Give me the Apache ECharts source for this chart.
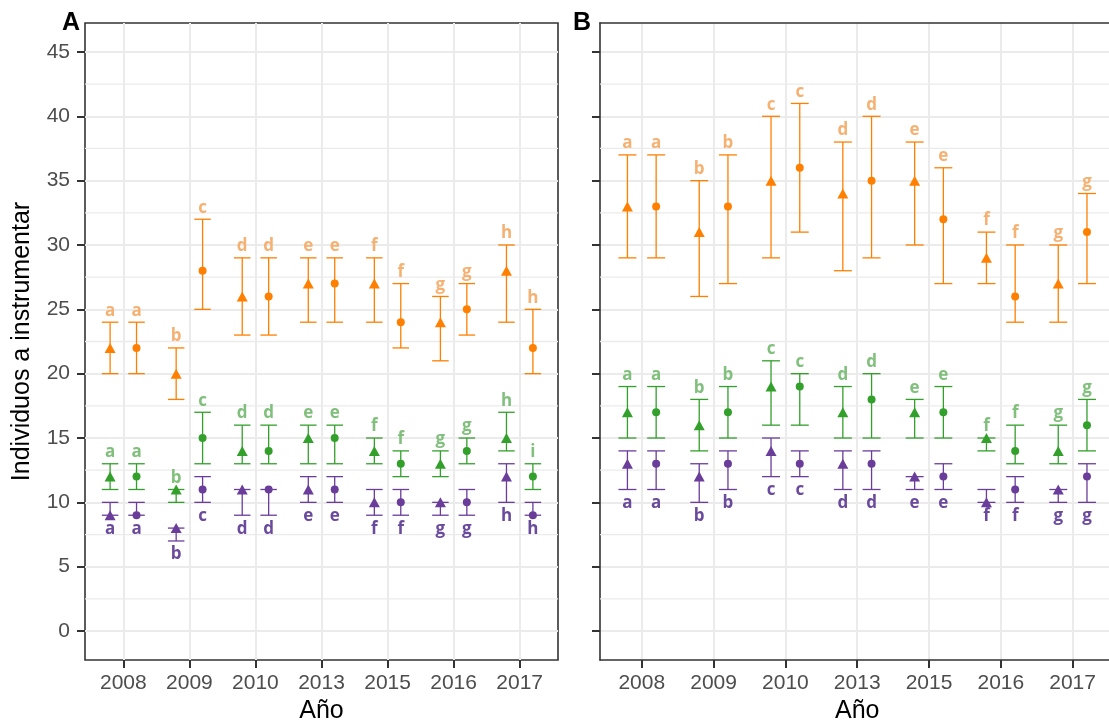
<!DOCTYPE html>
<html><head><meta charset="utf-8">
<script src="https://cdn.jsdelivr.net/npm/echarts@6/dist/echarts.min.js"></script>
<style>html,body{margin:0;padding:0;background:#fff;overflow:hidden}#c{width:1109px;height:723px}</style>
</head><body><div id="c"></div>
<script>
// ---------- categories & ticks ----------
const years = ['2008', '2009', '2010', '2013', '2015', '2016', '2017'];
const yTicks = [0, 5, 10, 15, 20, 25, 30, 35, 40, 45];
const yMinorTicks = [2.5, 7.5, 12.5, 17.5, 22.5, 27.5, 32.5, 37.5, 42.5];

// ---------- Panel A ----------
const aOrangeTri = [22, 20, 26, 27, 27, 24, 28];
const aOrangeTriLo = [20, 18, 23, 24, 24, 21, 24];
const aOrangeTriHi = [24, 22, 29, 29, 29, 26, 30];
const aOrangeTriLet = ['a', 'b', 'd', 'e', 'f', 'g', 'h'];
const aOrangeCir = [22, 28, 26, 27, 24, 25, 22];
const aOrangeCirLo = [20, 25, 23, 24, 22, 23, 20];
const aOrangeCirHi = [24, 32, 29, 29, 27, 27, 25];
const aOrangeCirLet = ['a', 'c', 'd', 'e', 'f', 'g', 'h'];

const aGreenTri = [12, 11, 14, 15, 14, 13, 15];
const aGreenTriLo = [11, 10, 13, 13, 13, 12, 14];
const aGreenTriHi = [13, 11, 16, 16, 15, 14, 17];
const aGreenTriLet = ['a', 'b', 'd', 'e', 'f', 'g', 'h'];
const aGreenCir = [12, 15, 14, 15, 13, 14, 12];
const aGreenCirLo = [11, 13, 13, 13, 12, 13, 11];
const aGreenCirHi = [13, 17, 16, 16, 14, 15, 13];
const aGreenCirLet = ['a', 'c', 'd', 'e', 'f', 'g', 'i'];

const aPurpleTri = [9, 8, 11, 11, 10, 10, 12];
const aPurpleTriLo = [9, 7, 9, 10, 9, 9, 10];
const aPurpleTriHi = [10, 8, 11, 12, 11, 10, 13];
const aPurpleTriLet = ['a', 'b', 'd', 'e', 'f', 'g', 'h'];
const aPurpleCir = [9, 11, 11, 11, 10, 10, 9];
const aPurpleCirLo = [9, 10, 9, 10, 9, 9, 9];
const aPurpleCirHi = [10, 12, 11, 12, 11, 11, 10];
const aPurpleCirLet = ['a', 'c', 'd', 'e', 'f', 'g', 'h'];

// ---------- Panel B ----------
const bOrangeTri = [33, 31, 35, 34, 35, 29, 27];
const bOrangeTriLo = [29, 26, 29, 28, 30, 27, 24];
const bOrangeTriHi = [37, 35, 40, 38, 38, 31, 30];
const bOrangeCir = [33, 33, 36, 35, 32, 26, 31];
const bOrangeCirLo = [29, 27, 31, 29, 27, 24, 27];
const bOrangeCirHi = [37, 37, 41, 40, 36, 30, 34];

const bGreenTri = [17, 16, 19, 17, 17, 15, 14];
const bGreenTriLo = [15, 14, 16, 15, 15, 14, 13];
const bGreenTriHi = [19, 18, 21, 19, 18, 15, 16];
const bGreenCir = [17, 17, 19, 18, 17, 14, 16];
const bGreenCirLo = [15, 15, 16, 15, 15, 13, 14];
const bGreenCirHi = [19, 19, 20, 20, 19, 16, 18];

const bPurpleTri = [13, 12, 14, 13, 12, 10, 11];
const bPurpleTriLo = [11, 10, 12, 11, 11, 10, 10];
const bPurpleTriHi = [14, 13, 15, 14, 12, 11, 11];
const bPurpleCir = [13, 13, 13, 13, 12, 11, 12];
const bPurpleCirLo = [11, 11, 12, 11, 11, 10, 10];
const bPurpleCirHi = [14, 14, 14, 14, 13, 12, 13];

const bLetters = ['a', 'b', 'c', 'd', 'e', 'f', 'g'];

// ---------- styling ----------
const COL = { orange: '#FF7F00', green: '#33A02C', purple: '#6A3D9A' };
const LBL = { orange: '#F5B172', green: '#80BF7C', purple: '#6A4A9C' };
const FONT = '"Liberation Sans", Arial, sans-serif';
const LFONT = 'bold 17px "Open Sans", "Liberation Sans", sans-serif';
const DODGE = 0.2, CAP = 0.125;
const BORDER = { color: '#333333', width: 1.6 };
const XRANGE = [[0.42, 7.58], [0.418, 7.582]];

const series = [];

// minor horizontal gridlines (drawn through the axes' scales)
[0, 1].forEach(function (panel) {
  series.push({
    type: 'custom', xAxisIndex: panel, yAxisIndex: panel, z: 1, silent: true,
    data: yMinorTicks.map(v => [v]),
    renderItem: function (params, api) {
      const v = api.value(0);
      const p1 = api.coord([XRANGE[panel][0], v]), p2 = api.coord([XRANGE[panel][1], v]);
      return { type: 'line', shape: { x1: p1[0], y1: p1[1], x2: p2[0], y2: p2[1] }, style: { stroke: '#EBEBEB', lineWidth: 1.3 } };
    }
  });
});

function addGroup(panel, color, shape, vals, lo, hi, letters, above) {
  const off = shape === 'triangle' ? -DODGE : DODGE;
  const xs = years.map((_, i) => i + 1 + off);
  series.push({
    type: 'custom', xAxisIndex: panel, yAxisIndex: panel, z: 2, silent: true, clip: false,
    data: xs.map((x, i) => [x, lo[i], hi[i]]),
    renderItem: function (params, api) {
      const x = api.value(0), l = api.value(1), h = api.value(2);
      const pL = api.coord([x, l]), pH = api.coord([x, h]);
      const w = api.coord([x + CAP, l])[0] - pL[0];
      const ls = { stroke: COL[color], lineWidth: 1.3 };
      const lab = letters[params.dataIndex];
      return {
        type: 'group', children: [
          { type: 'line', shape: { x1: pL[0], y1: pL[1], x2: pH[0], y2: pH[1] }, style: ls },
          { type: 'line', shape: { x1: pL[0] - w, y1: pL[1], x2: pL[0] + w, y2: pL[1] }, style: ls },
          { type: 'line', shape: { x1: pH[0] - w, y1: pH[1], x2: pH[0] + w, y2: pH[1] }, style: ls },
          { type: 'text', style: above
              ? { text: lab, x: pH[0], y: pH[1] - 3, align: 'center', verticalAlign: 'bottom', fill: LBL[color], font: LFONT }
              : { text: lab, x: pL[0], y: pL[1] + 5, align: 'center', verticalAlign: 'top', fill: LBL[color], font: LFONT } }
        ]
      };
    }
  });
  series.push({
    type: 'scatter', xAxisIndex: panel, yAxisIndex: panel, z: 3, silent: true,
    symbol: shape, symbolSize: shape === 'triangle' ? [11, 10] : 8,
    itemStyle: { color: COL[color], opacity: 1 },
    data: xs.map((x, i) => [x, vals[i]])
  });
}

addGroup(0, 'orange', 'triangle', aOrangeTri, aOrangeTriLo, aOrangeTriHi, aOrangeTriLet, true);
addGroup(0, 'orange', 'circle', aOrangeCir, aOrangeCirLo, aOrangeCirHi, aOrangeCirLet, true);
addGroup(0, 'green', 'triangle', aGreenTri, aGreenTriLo, aGreenTriHi, aGreenTriLet, true);
addGroup(0, 'green', 'circle', aGreenCir, aGreenCirLo, aGreenCirHi, aGreenCirLet, true);
addGroup(0, 'purple', 'triangle', aPurpleTri, aPurpleTriLo, aPurpleTriHi, aPurpleTriLet, false);
addGroup(0, 'purple', 'circle', aPurpleCir, aPurpleCirLo, aPurpleCirHi, aPurpleCirLet, false);

addGroup(1, 'orange', 'triangle', bOrangeTri, bOrangeTriLo, bOrangeTriHi, bLetters, true);
addGroup(1, 'orange', 'circle', bOrangeCir, bOrangeCirLo, bOrangeCirHi, bLetters, true);
addGroup(1, 'green', 'triangle', bGreenTri, bGreenTriLo, bGreenTriHi, bLetters, true);
addGroup(1, 'green', 'circle', bGreenCir, bGreenCirLo, bGreenCirHi, bLetters, true);
addGroup(1, 'purple', 'triangle', bPurpleTri, bPurpleTriLo, bPurpleTriHi, bLetters, false);
addGroup(1, 'purple', 'circle', bPurpleCir, bPurpleCirLo, bPurpleCirHi, bLetters, false);

const catVals = years.map((_, i) => i + 1);
function xAxis(idx, showLine) {
  return {
    type: 'value', gridIndex: idx, min: XRANGE[idx][0], max: XRANGE[idx][1], position: 'bottom',
    axisLine: { show: showLine, onZero: false, lineStyle: BORDER },
    axisTick: { show: true, customValues: catVals, length: 8, lineStyle: { color: '#333333', width: 2 } },
    axisLabel: { show: true, customValues: catVals, formatter: v => years[Math.round(v) - 1], fontSize: 21, color: '#4D4D4D', fontFamily: FONT, margin: 13 },
    splitLine: { show: true, lineStyle: { color: '#EBEBEB', width: 2 } },
    name: 'Año', nameLocation: 'middle', nameGap: 38,
    nameTextStyle: { fontSize: 25, color: '#000', fontFamily: FONT }
  };
}
function xTop(idx) {
  return {
    type: 'value', gridIndex: idx, min: XRANGE[idx][0], max: XRANGE[idx][1], position: 'top',
    axisLine: { show: true, onZero: false, lineStyle: BORDER },
    axisTick: { show: false }, axisLabel: { show: false }, splitLine: { show: false }
  };
}
function yMajor(idx, withLabels, showLine) {
  const o = {
    type: 'value', gridIndex: idx, min: -2.25, max: 47.25, position: 'left',
    axisLine: { show: showLine, onZero: false, lineStyle: BORDER },
    axisTick: { show: true, customValues: yTicks, length: 8, lineStyle: { color: '#333333', width: 2 } },
    axisLabel: { show: withLabels, customValues: yTicks, fontSize: 21, color: '#4D4D4D', fontFamily: FONT, margin: 15 },
    splitLine: { show: true, lineStyle: { color: '#EBEBEB', width: 2 } }
  };
  if (withLabels) {
    o.name = 'Individuos a instrumentar';
    o.nameLocation = 'middle';
    o.nameGap = 50;
    o.nameTextStyle = { fontSize: 25, color: '#000', fontFamily: FONT };
  }
  return o;
}

const option = {
  animation: false,
  backgroundColor: '#ffffff',
  grid: [
    { left: 85, top: 23, width: 473, height: 637, outerBoundsMode: 'none', containLabel: false, show: true, borderColor: '#333333', borderWidth: 1.6, backgroundColor: 'transparent' },
    { left: 600, top: 23, right: -5.4, height: 637, outerBoundsMode: 'none', containLabel: false, show: false }
  ],
  xAxis: [xAxis(0, false), xAxis(1, true), xTop(1)],
  yAxis: [yMajor(0, true, false), yMajor(1, false, true)],
  graphic: [
    { type: 'text', left: 62, top: 11, style: { text: 'A', font: 'bold 25px "Liberation Sans", Arial, sans-serif', fill: '#000' } },
    { type: 'text', left: 573, top: 11, style: { text: 'B', font: 'bold 25px "Liberation Sans", Arial, sans-serif', fill: '#000' } }
  ],
  series: series
};

const chart = echarts.init(document.getElementById('c'), null, { renderer: 'canvas' });
chart.setOption(option);
</script>
</body></html>
